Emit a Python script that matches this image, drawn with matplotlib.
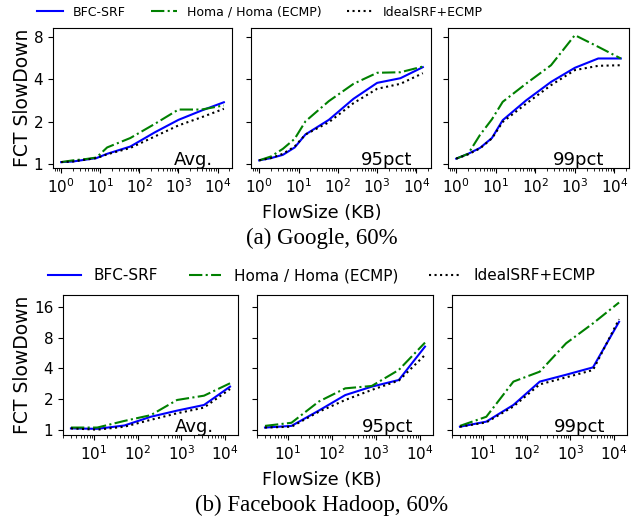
import matplotlib
matplotlib.use("Agg")
import matplotlib.pyplot as plt
from matplotlib.ticker import FixedLocator, FixedFormatter, NullLocator, LogLocator

# ---- data: Google, 60% ----
g_x = [1, 2, 4, 8, 15, 59, 250, 1000, 3900, 14500]
g_avg_bfc = [1.03, 1.04, 1.07, 1.10, 1.18, 1.33, 1.68, 2.06, 2.40, 2.75]
g_avg_homa = [1.03, 1.06, 1.08, 1.11, 1.31, 1.53, 1.93, 2.44, 2.44, 2.61]
g_avg_ideal = [1.03, 1.04, 1.07, 1.10, 1.17, 1.30, 1.57, 1.88, 2.15, 2.47]
g_95_bfc = [1.06, 1.10, 1.16, 1.31, 1.62, 2.06, 2.91, 3.78, 4.08, 4.89]
g_95_homa = [1.06, 1.13, 1.28, 1.51, 2.01, 2.80, 3.72, 4.46, 4.50, 4.94]
g_95_ideal = [1.06, 1.10, 1.18, 1.33, 1.62, 1.98, 2.71, 3.43, 3.72, 4.43]
g_99_bfc = [1.09, 1.18, 1.30, 1.53, 2.05, 2.84, 3.84, 4.84, 5.64, 5.64]
g_99_homa = [1.09, 1.18, 1.61, 2.08, 2.77, 3.74, 5.05, 8.27, 6.83, 5.64]
g_99_ideal = [1.09, 1.17, 1.29, 1.52, 1.99, 2.69, 3.64, 4.66, 5.00, 5.05]

# ---- data: Facebook Hadoop, 60% ----
f_x = [3, 12, 50, 200, 800, 3300, 13000]
f_avg_bfc = [1.03, 1.02, 1.10, 1.34, 1.54, 1.75, 2.65]
f_avg_homa = [1.05, 1.05, 1.22, 1.39, 1.96, 2.16, 2.86]
f_avg_ideal = [1.03, 1.00, 1.07, 1.25, 1.45, 1.65, 2.51]
f_95_bfc = [1.05, 1.09, 1.54, 2.19, 2.65, 3.08, 6.56]
f_95_homa = [1.09, 1.17, 1.89, 2.55, 2.69, 3.87, 7.18]
f_95_ideal = [1.05, 1.07, 1.50, 1.96, 2.46, 3.04, 5.43]
f_99_bfc = [1.07, 1.20, 1.75, 2.97, 3.47, 4.10, 11.5]
f_99_homa = [1.09, 1.34, 2.97, 3.72, 7.07, 11.1, 17.8]
f_99_ideal = [1.07, 1.18, 1.69, 2.79, 3.27, 3.86, 12.2]

series_names = ["BFC-SRF", "Homa / Homa (ECMP)", "IdealSRF+ECMP"]
panel_labels = ["Avg.", "95pct", "99pct"]
g_yticks = [1, 2, 4, 8]
f_yticks = [1, 2, 4, 8, 16]
captions = ["(a) Google, 60%", "(b) Facebook Hadoop, 60%"]

styles = [dict(color="blue", ls="-", lw=1.5),
          dict(color="green", ls="-.", lw=1.5),
          dict(color="black", ls=":", lw=1.5)]

W, H = 644, 521
fig = plt.figure(figsize=(W / 100, H / 100), dpi=100)

def px_axes(l, r, t, b):
    return fig.add_axes([l / W, 1 - b / H, (r - l) / W, (b - t) / H])

top_boxes = [(53, 232), (251, 431), (448, 629)]
bot_boxes = [(63, 238), (257, 433), (452, 627)]
top_text_x = [0.785, 0.755, 0.72]
bot_text_x = [0.75, 0.74, 0.73]

groups = [
    (g_x, [(g_avg_bfc, g_avg_homa, g_avg_ideal), (g_95_bfc, g_95_homa, g_95_ideal),
           (g_99_bfc, g_99_homa, g_99_ideal)], top_boxes, (28, 168), g_yticks,
     (0.935, 9.3), top_text_x),
    (f_x, [(f_avg_bfc, f_avg_homa, f_avg_ideal), (f_95_bfc, f_95_homa, f_95_ideal),
           (f_99_bfc, f_99_homa, f_99_ideal)], bot_boxes, (295, 435), f_yticks,
     (0.887, 21.1), bot_text_x),
]

legend_cfg = [
    dict(x=260, y=12, fs=9.0, hl=2.1, ctp=0.8, cs=2.0),
    dict(x=322, y=276, fs=11.0, hl=2.15, ctp=0.8, cs=2.0),
]

all_handles = None
for gi, (xs, panels, boxes, (yt, yb), yticks, ylim, tx) in enumerate(groups):
    for pi, (vals, (l, r)) in enumerate(zip(panels, boxes)):
        ax = px_axes(l, r, yt, yb)
        handles = []
        for v, st, nm in zip(vals, styles, series_names):
            h, = ax.plot(xs, v, label=nm, **st)
            handles.append(h)
        all_handles = handles
        ax.set_xscale("log")
        ax.xaxis.set_major_locator(LogLocator(base=10, numticks=12))
        ax.xaxis.set_minor_locator(LogLocator(base=10, subs=range(2, 10), numticks=12))
        ax.set_yscale("log", base=2)
        ax.set_ylim(*ylim)
        ax.yaxis.set_major_locator(FixedLocator(yticks))
        ax.yaxis.set_minor_locator(NullLocator())
        if pi == 0:
            ax.yaxis.set_major_formatter(FixedFormatter([str(t) for t in yticks]))
        else:
            ax.yaxis.set_major_formatter(FixedFormatter([""] * len(yticks)))
        ax.tick_params(axis="both", which="major", labelsize=11)
        ax.text(tx[pi], 0.02, panel_labels[pi], transform=ax.transAxes,
                ha="center", va="baseline", fontsize=13)
    lc = legend_cfg[gi]
    fig.legend(all_handles, series_names, loc="center", ncol=3,
               bbox_to_anchor=(lc["x"] / W, 1 - lc["y"] / H), frameon=False,
               fontsize=lc["fs"], handlelength=lc["hl"], handletextpad=lc["ctp"],
               columnspacing=lc["cs"])
    fig.text(23 / W, 1 - ((yt + yb) / 2) / H, "FCT SlowDown", rotation=90,
             ha="center", va="center", fontsize=13.5)
    xl_y = 213 if gi == 0 else 480
    fig.text(0.5, 1 - xl_y / H, "FlowSize (KB)", ha="center", va="center", fontsize=12.7)
    cap_y = 238 if gi == 0 else 505
    fig.text(0.5, 1 - cap_y / H, captions[gi], ha="center", va="center",
             fontsize=16.5, family=["Liberation Serif", "DejaVu Serif"])

fig.savefig("out.png", dpi=100)
